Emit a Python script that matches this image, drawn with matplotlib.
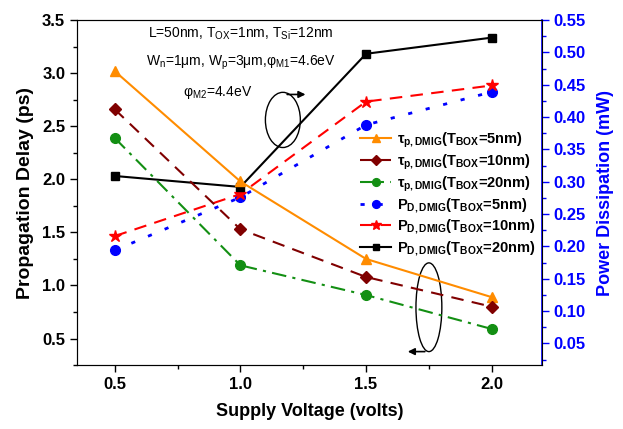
import matplotlib
matplotlib.use("Agg")
import matplotlib.pyplot as plt
from matplotlib.patches import Ellipse
from matplotlib.ticker import MultipleLocator

plt.rcParams["font.family"] = ["Liberation Sans", "DejaVu Sans"]
plt.rcParams["mathtext.fontset"] = "custom"
plt.rcParams["mathtext.rm"] = "Liberation Sans"
plt.rcParams["mathtext.it"] = "Liberation Sans:italic"
plt.rcParams["mathtext.bf"] = "Liberation Sans:bold"

voltage = [0.5, 1.0, 1.5, 2.0]

# propagation delay (ps), left axis
tau_5nm = [3.02, 1.98, 1.25, 0.89]
tau_10nm = [2.66, 1.53, 1.08, 0.80]
tau_20nm = [2.39, 1.19, 0.91, 0.59]

# power dissipation (mW), right axis
pd_5nm = [0.194, 0.276, 0.388, 0.439]
pd_10nm = [0.216, 0.281, 0.424, 0.449]
pd_20nm = [0.309, 0.292, 0.498, 0.523]

tbox = ["5nm", "10nm", "20nm"]

fig = plt.figure(figsize=(6.23, 4.29), dpi=100)
ax = fig.add_axes([0.1236, 0.149, 0.7464, 0.804])
ax2 = ax.twinx()

h1, = ax.plot(voltage, tau_5nm, color="#ff8c00", ls="-", lw=1.5, marker="^", ms=7,
              label=r"τ$_{\mathbf{p,DMIG}}$(T$_{\mathbf{BOX}}$=%s)" % tbox[0])
h2, = ax.plot(voltage, tau_10nm, color="#800000", ls=(0, (6, 4)), lw=1.5, marker="D", ms=6,
              label=r"τ$_{\mathbf{p,DMIG}}$(T$_{\mathbf{BOX}}$=%s)" % tbox[1])
h3, = ax.plot(voltage, tau_20nm, color="#138f13", ls=(0, (7, 3, 1.5, 3)), lw=1.5, marker="o", ms=7,
              label=r"τ$_{\mathbf{p,DMIG}}$(T$_{\mathbf{BOX}}$=%s)" % tbox[2])

h4, = ax2.plot(voltage, pd_5nm, color="#0000ff", ls=(0, (1.5, 5)), lw=2, marker="o", ms=7,
               label=r"P$_{\mathbf{D,DMIG}}$(T$_{\mathbf{BOX}}$=%s)" % tbox[0])
h5, = ax2.plot(voltage, pd_10nm, color="#ff0000", ls=(0, (6, 4)), lw=1.5, marker="*", ms=9,
               label=r"P$_{\mathbf{D,DMIG}}$(T$_{\mathbf{BOX}}$=%s)" % tbox[1])
h6, = ax2.plot(voltage, pd_20nm, color="black", ls="-", lw=1.5, marker="s", ms=6,
               label=r"P$_{\mathbf{D,DMIG}}$(T$_{\mathbf{BOX}}$=%s)" % tbox[2])

ax.set_xlim(0.35, 2.2)
ax.set_ylim(0.25, 3.5)
ax2.set_ylim(0.0165, 0.55)

ax.xaxis.set_major_locator(MultipleLocator(0.5))
ax.xaxis.set_minor_locator(MultipleLocator(0.25))
ax.yaxis.set_major_locator(MultipleLocator(0.5))
ax.yaxis.set_minor_locator(MultipleLocator(0.25))
ax2.yaxis.set_major_locator(MultipleLocator(0.05))
ax2.yaxis.set_minor_locator(MultipleLocator(0.025))

ax.tick_params(axis="both", which="major", length=5, width=1, labelsize=12)
ax.tick_params(axis="both", which="minor", length=3, width=1)
ax.tick_params(top=False, which="both")
ax2.tick_params(axis="y", which="major", length=5, width=1, colors="#0000ff", labelsize=12)
ax2.tick_params(axis="y", which="minor", length=3, width=1, colors="#0000ff")
ax.set_yticks([0.5, 1.0, 1.5, 2.0, 2.5, 3.0, 3.5])
ax.set_xticks(voltage)
ax2.set_yticks([0.05, 0.10, 0.15, 0.20, 0.25, 0.30, 0.35, 0.40, 0.45, 0.50, 0.55])
ax2.set_yticklabels(["%.2f" % v for v in ax2.get_yticks()], fontweight="bold")
ax.set_yticklabels(["%.1f" % v for v in ax.get_yticks()], fontweight="bold")
ax.set_xticklabels(["%.1f" % v for v in voltage], fontweight="bold")

for side in ["left", "bottom", "top"]:
    ax2.spines[side].set_color("#333333")
ax2.spines["right"].set_color("#0000ff")
ax2.spines["right"].set_linewidth(1.2)

ax.set_xlabel("Supply Voltage (volts)", fontsize=13, fontweight="bold", labelpad=8)
ax.set_ylabel("Propagation Delay (ps)", fontsize=14, fontweight="bold", labelpad=6)
ax2.set_ylabel("Power Dissipation (mW)", fontsize=13, fontweight="bold", color="#0000ff", labelpad=8)

# device parameters
ax.text(1.0, 3.37, r"L=50nm, T$_{\mathrm{OX}}$=1nm, T$_{\mathrm{Si}}$=12nm", fontsize=10, ha="center", va="center")
ax.text(1.0, 3.10, r"W$_{\mathrm{n}}$=1μm, W$_{\mathrm{p}}$=3μm,φ$_{\mathrm{M1}}$=4.6eV", fontsize=10, ha="center", va="center")
ax.text(0.91, 2.82, r"φ$_{\mathrm{M2}}$=4.4eV", fontsize=10, ha="center", va="center")

# ellipses grouping the curves with arrows to their axis
ax.add_patch(Ellipse((1.169, 2.56), 0.139, 0.52, fill=False, lw=1.0, ec="black"))
ax.annotate("", xy=(1.27, 2.80), xytext=(1.175, 2.80),
            arrowprops=dict(arrowstyle="-|>", color="black", lw=1.2, mutation_scale=10))
ax.add_patch(Ellipse((1.75, 0.795), 0.103, 0.836, fill=False, lw=1.0, ec="black"))
ax.annotate("", xy=(1.655, 0.377), xytext=(1.745, 0.377),
            arrowprops=dict(arrowstyle="-|>", color="black", lw=1.2, mutation_scale=10))

leg = ax.legend(handles=[h1, h2, h3, h4, h5, h6], loc="upper left",
                bbox_to_anchor=(350 / 623, 1 - 120 / 429), bbox_transform=fig.transFigure,
                frameon=False, prop={"weight": "bold", "size": 10.5}, handlelength=2.1,
                handletextpad=0.4, labelspacing=0.2, borderpad=0.2, markerscale=0.8)
ax.set_zorder(ax2.get_zorder() + 1)
ax.patch.set_visible(False)

fig.savefig("out.png", dpi=100)
